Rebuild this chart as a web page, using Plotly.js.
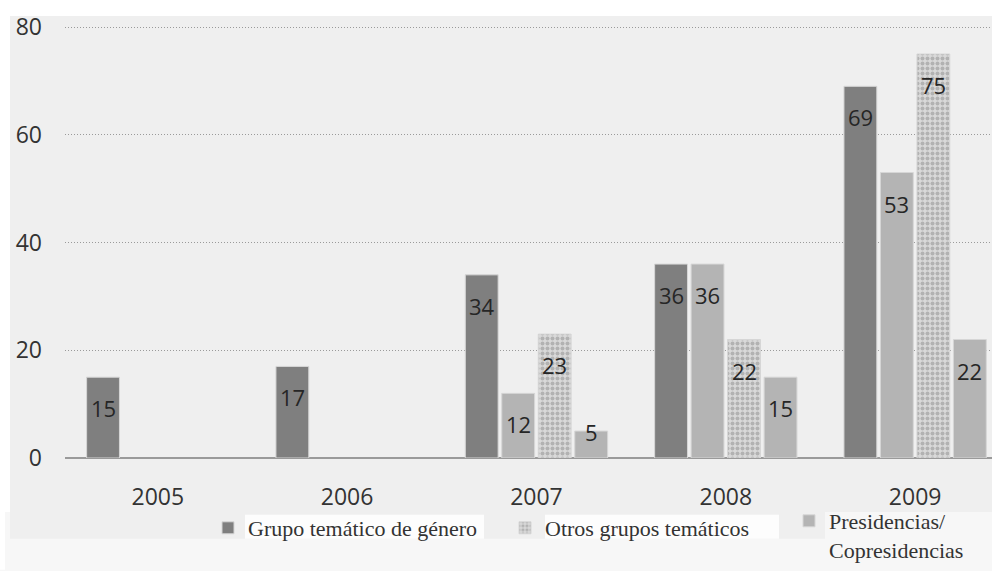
<!DOCTYPE html>
<html>
<head>
<meta charset="utf-8">
<script src="https://cdn.plot.ly/plotly-3.0.1.min.js"></script>
<style>html,body{margin:0;padding:0;background:#fff;}#chart{width:992px;height:571px;}</style>
</head>
<body>
<div id="chart"></div>
<script>
// ---- Data ----
const years = ['2005', '2006', '2007', '2008', '2009'];
const grupoGenero = [15, 17, 34, 36, 69];          // Grupo temático de género
const serieSinLeyenda = [null, null, 12, 36, 53];   // second series (no legend entry shown)
const otrosGrupos = [null, null, 23, 22, 75];       // Otros grupos temáticos
const presidencias = [null, null, 5, 15, 22];       // Presidencias/Copresidencias
const yTicks = [0, 20, 40, 60, 80];
const legendNames = ['Grupo temático de género', 'Otros grupos temáticos', 'Presidencias/<br>Copresidencias'];

// ---- Layout helpers (pixel -> paper) ----
const W = 992, H = 571;
const M = {l: 65, r: 0, t: 26, b: 112};
const PW = W - M.l - M.r, PH = H - M.t - M.b;
const X = px => (px - M.l) / PW;
const Y = py => (H - M.b - py) / PH;

const BARGAP = 0.229, NSER = 4;
const slot = (1 - BARGAP) / NSER;

const sans = 'Open Sans, DejaVu Sans, sans-serif';
const serif = 'Liberation Serif, Times New Roman, serif';
const edge = {width: 1, color: '#d6d6d6'};

const traces = [
  {type: 'bar', x: years, y: grupoGenero, name: legendNames[0], legend: 'legend',
   marker: {color: '#7f7f7f', line: edge}, hoverinfo: 'x+y'},
  {type: 'bar', x: years, y: serieSinLeyenda, name: 'Serie 2', showlegend: false,
   marker: {color: '#b4b4b4', line: edge}, hoverinfo: 'x+y'},
  {type: 'bar', x: years, y: otrosGrupos, name: legendNames[1], legend: 'legend2',
   marker: {color: '#d3d3d3', line: edge,
            pattern: {shape: '.', bgcolor: '#d9d9d9', fgcolor: '#b2b2b2', size: 5, solidity: 0.5}},
   hoverinfo: 'x+y'},
  {type: 'bar', x: years, y: presidencias, name: legendNames[2], legend: 'legend3',
   marker: {color: '#b4b4b4', line: edge}, hoverinfo: 'x+y'}
];

// value labels, placed through the axes (category index + group offset)
const series = [grupoGenero, serieSinLeyenda, otrosGrupos, presidencias];
const pxPerUnit = PH / 80.2;
const annotations = [];
series.forEach((vals, k) => {
  vals.forEach((v, i) => {
    if (v === null) return;
    const tall = v * pxPerUnit > 45;
    annotations.push({
      x: i + (k - (NSER - 1) / 2) * slot, y: v, xref: 'x', yref: 'y',
      text: String(v), showarrow: false, yanchor: 'middle', xanchor: 'center',
      yshift: tall ? -31 : -1,
      font: {family: sans, size: 22, color: '#262626'}
    });
  });
});

const rect = (x0, y0, x1, y1, color) => ({
  type: 'rect', xref: 'paper', yref: 'paper', layer: 'below',
  x0: X(x0), x1: X(x1), y0: Y(y1), y1: Y(y0),
  fillcolor: color, line: {width: 0}
});

const shapes = [
  rect(0, 0, 992, 16, '#ffffff'),
  rect(0, 16, 10, 513, '#ffffff'),
  rect(0, 513, 5, 571, '#ffffff'),
  rect(10, 16, 992, 513, '#efefef'),
  rect(10, 513, 825, 540, '#efefef'),
  rect(245, 516, 484, 540, '#fdfdfd'),
  rect(545, 516, 779, 540, '#fdfdfd')
];

const legendBase = {
  orientation: 'v', yanchor: 'top', xanchor: 'left',
  bgcolor: 'rgba(0,0,0,0)', borderwidth: 0,
  font: {family: serif, size: 22, color: '#333333'},
  itemwidth: 30, tracegroupgap: 0, valign: 'top'
};

const layout = {
  width: W, height: H, autosize: false,
  margin: M,
  paper_bgcolor: '#f7f7f7',
  plot_bgcolor: 'rgba(0,0,0,0)',
  barmode: 'group', bargap: BARGAP, bargroupgap: 0.1,
  font: {family: sans, color: '#333333'},
  xaxis: {
    type: 'category', range: [-0.49, 4.406],
    showgrid: false, zeroline: false, showline: false, ticks: '',
    tickfont: {family: sans, size: 23, color: '#333333'},
    ticklabelstandoff: 23, fixedrange: true, automargin: false
  },
  yaxis: {
    range: [0, 80.2], tickvals: yTicks, ticktext: yTicks.map(String),
    showgrid: true, gridcolor: '#9a9a9a', gridwidth: 1, griddash: '1px,2px',
    zeroline: true, zerolinecolor: '#9a9a9a', zerolinewidth: 2,
    showline: false, ticks: '',
    tickfont: {family: sans, size: 23, color: '#333333'},
    ticklabelstandoff: 22, fixedrange: true, automargin: false
  },
  showlegend: true,
  legend: Object.assign({}, legendBase, {x: X(208), y: Y(507)}),
  legend2: Object.assign({}, legendBase, {x: X(505), y: Y(507)}),
  legend3: Object.assign({}, legendBase, {x: X(789), y: Y(501)}),
  shapes: shapes,
  annotations: annotations
};

Plotly.newPlot('chart', traces, layout, {displayModeBar: false, staticPlot: true});
</script>
</body>
</html>
